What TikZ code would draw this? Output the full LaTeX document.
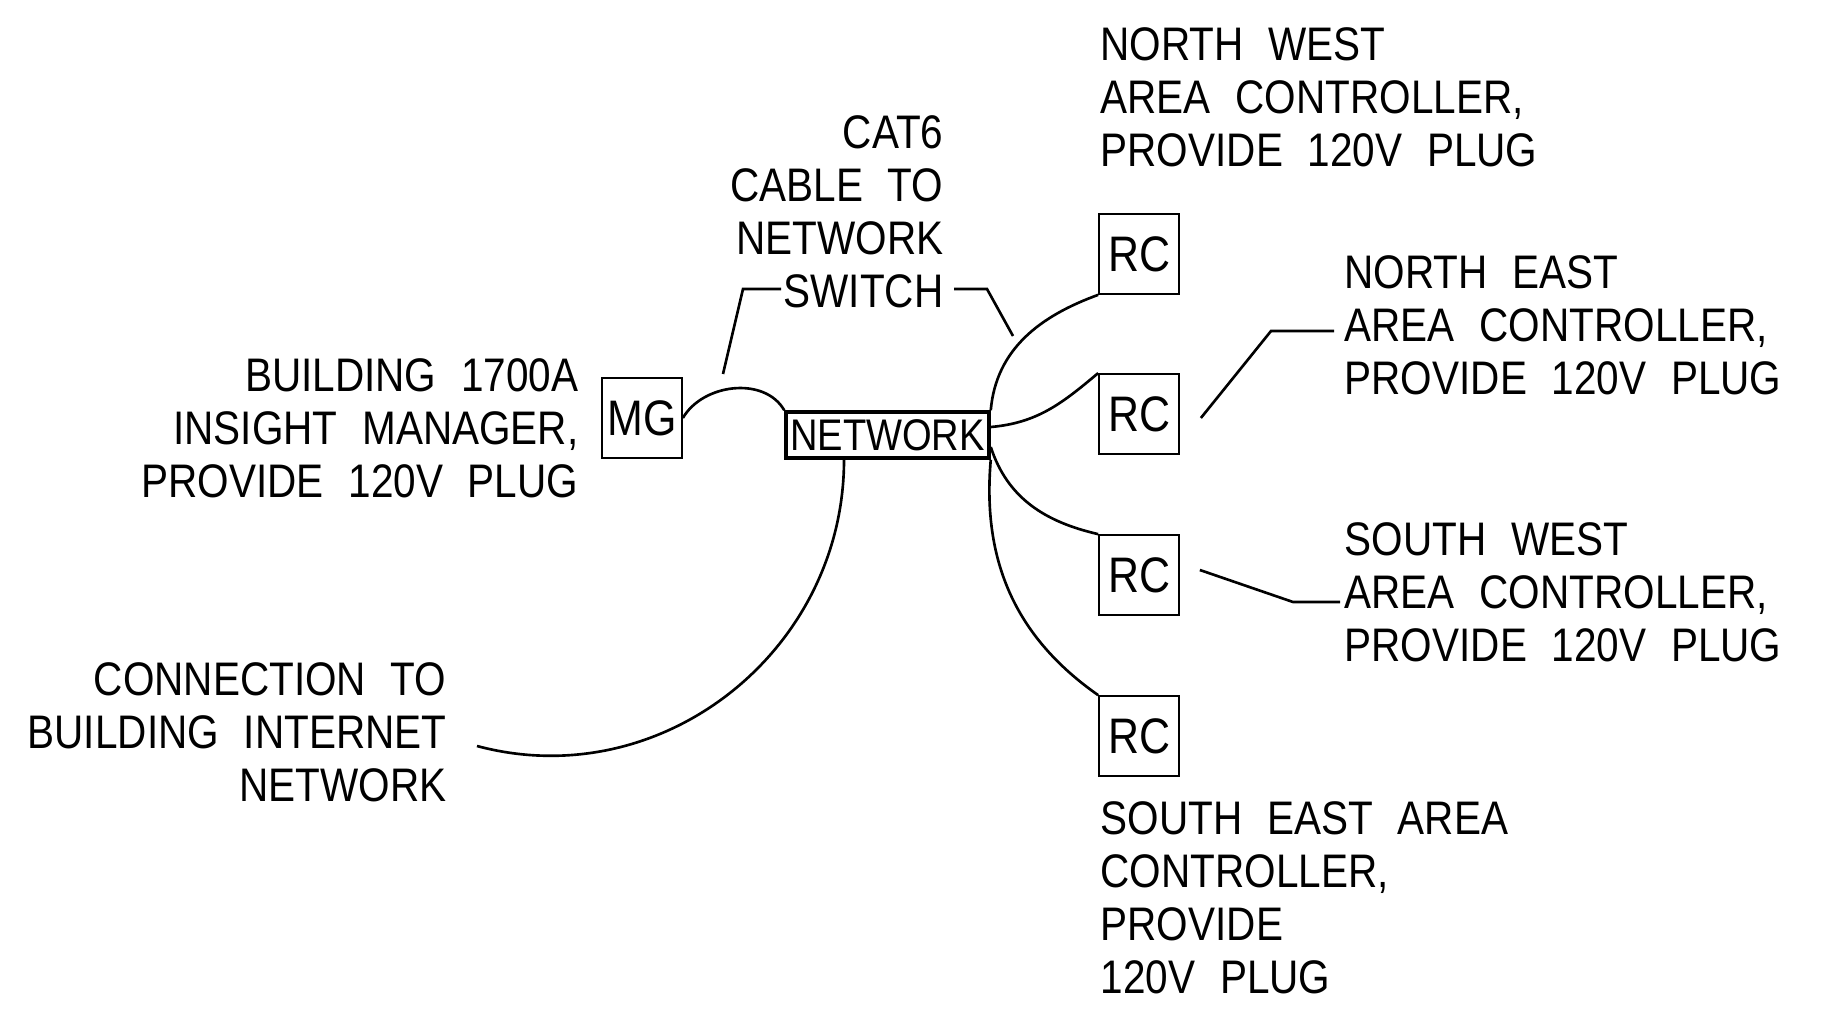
\documentclass[tikz,border=0pt]{standalone}
\usepackage{fontspec}
\usepackage{tikz}
\newfontfamily\cadfont[FakeStretch=0.86,WordSpace=2.2]{Liberation Sans}

\begin{document}
\begin{tikzpicture}[
	box/.style={draw,line width=0.5pt,minimum size=0.8cm,inner sep=0pt,font=\cadfont\fontsize{14.2}{16}\selectfont},
	netbox/.style={draw,line width=1pt,minimum width=2.03cm,minimum height=0.46cm,inner sep=0pt,font=\cadfont\fontsize{12.6}{14}\selectfont},
	note/.style={inner sep=0pt,font=\cadfont\fontsize{13.4}{15.1}\selectfont},
	wire/.style={line width=0.75pt}]
	\useasboundingbox (0,0) rectangle (18.33,10.15);

	%boxes
	\node[box]    (mg)  at (6.42,5.97)  {MG};
	\node[netbox] (net) at (8.875,5.80) {NETWORK};
	\node[box]    (rc1) at (11.39,7.61) {RC};	%north west
	\node[box]    (rc2) at (11.39,6.01) {RC};	%north east
	\node[box]    (rc3) at (11.39,4.40) {RC};	%south west
	\node[box]    (rc4) at (11.39,2.79) {RC};	%south east

	%cables
	\coordinate (inet) at (4.77,2.69);
	\draw[wire] (mg.east) to[out=60,in=120] (net.north west);
	\draw[wire] ([xshift=-0.435cm]net.south) to[out=-90,in=-15,looseness=1.05] (inet);
	\draw[wire] (net.north east) to[out=85,in=200] (rc1.south west);
	\draw[wire] ([yshift=0.08cm]net.east) to[out=5,in=220] (rc2.north west);
	\draw[wire] ([yshift=-0.12cm]net.east) to[out=-72,in=167] (rc3.north west);
	\draw[wire] (net.south east) to[out=-95,in=145] (rc4.north west);

	%labels
	\node[note,anchor=north east,align=right] (cat)  at (9.44,9.00)  {CAT6\\CABLE TO\\NETWORK\\SWITCH};
	\node[note,anchor=north east,align=right] (bldg) at (5.79,6.57)  {BUILDING 1700A\\INSIGHT MANAGER,\\PROVIDE 120V PLUG};
	\node[note,anchor=north east,align=right] (conn) at (4.47,3.53)  {CONNECTION TO\\BUILDING INTERNET\\NETWORK};
	\node[note,anchor=north west,align=left]  (nw)   at (11.00,9.88) {NORTH WEST\\AREA CONTROLLER,\\PROVIDE 120V PLUG};
	\node[note,anchor=north west,align=left]  (ne)   at (13.44,7.60) {NORTH EAST\\AREA CONTROLLER,\\PROVIDE 120V PLUG};
	\node[note,anchor=north west,align=left]  (sw)   at (13.44,4.93) {SOUTH WEST\\AREA CONTROLLER,\\PROVIDE 120V PLUG};
	\node[note,anchor=north west,align=left]  (se)   at (11.00,2.14) {SOUTH EAST AREA\\CONTROLLER,\\PROVIDE\\120V PLUG};

	%leaders
	\draw[wire] (7.23,6.41) -- (7.43,7.26) -- (7.81,7.26);		%cat6 left
	\draw[wire] (9.54,7.26) -- (9.87,7.26) -- (10.13,6.79);	%cat6 right
	\draw[wire] ([xshift=0.21cm,yshift=-0.04cm]rc2.east) -- (12.71,6.84) -- (13.34,6.84);
	\draw[wire] ([xshift=0.20cm,yshift=0.05cm]rc3.east) -- (12.93,4.13) -- (13.40,4.13);
\end{tikzpicture}
\end{document}
